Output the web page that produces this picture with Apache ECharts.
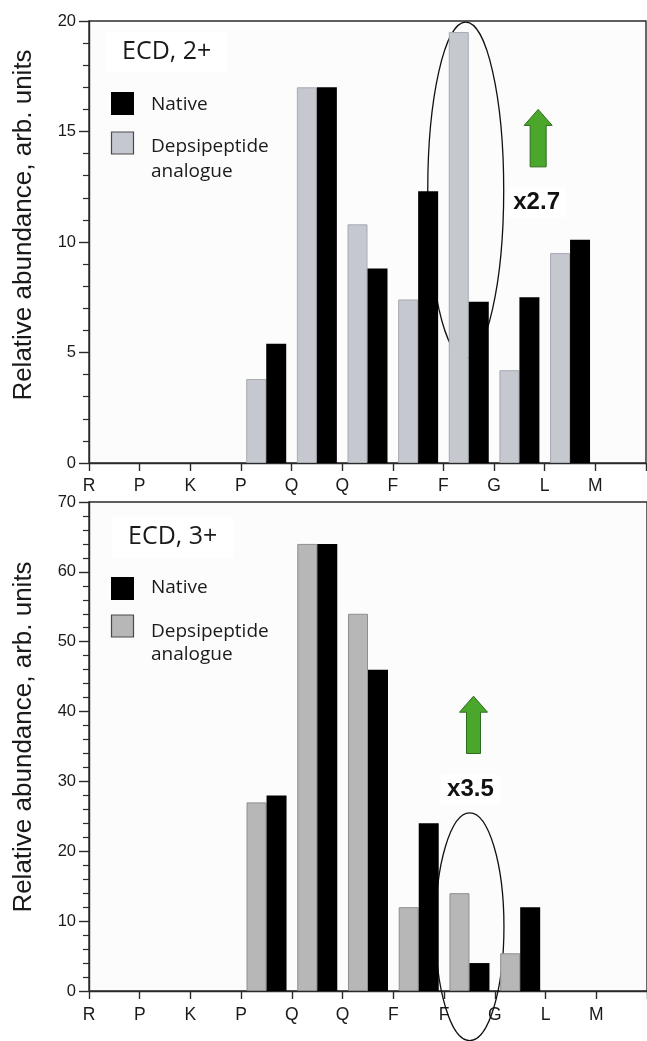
<!DOCTYPE html>
<html><head><meta charset="utf-8">
<script src="https://cdn.jsdelivr.net/npm/echarts@6/dist/echarts.min.js"></script>
<style>html,body{margin:0;padding:0;background:#fff}#c{width:647px;height:1041px}</style>
</head><body><div id="c"></div>
<script>
// Residue tick labels (ticks 0..11) and cleavage sites (intervals between ticks)
const tickLabels = ['R','P','K','P','Q','Q','F','F','G','L','M',''];
const sites = ['R|P','P|K','K|P','P|Q','Q|Q','Q|F','F|F','F|G','G|L','L|M','M|'];
// ECD, 2+
const native2 = [null,null,null,5.4,17.0,8.8,12.3,7.3,7.5,10.1,null];
const depsi2  = [null,null,null,3.8,17.0,10.8,7.4,19.5,4.2,9.5,null];
// ECD, 3+
const native3 = [null,null,null,28,64,46,24,4,12,null,null];
const depsi3  = [null,null,null,27,64,54,12,14,5.4,null,null];
// annotations (in data units)
const ring2 = {x:[6.69,8.19], y:[4.75,19.95]};
const ring3 = {x:[6.83,8.18], y:[-7.1,25.5]};
const arrow2 = {x:8.87, y:[13.4,16.0]};
const arrow3 = {x:7.58, y:[34.0,42.2]};
const factor2 = {x:8.84, y:11.8, text:'x2.7'};
const factor3 = {x:7.52, y:28.8, text:'x3.5'};
const yTitle = 'Relative abundance, arb. units';

const AX = '#2a2a2a';
const TXT = '#1a1a1a';
const SANS = '"Liberation Sans", Arial, sans-serif';
const HUM = '"Open Sans", "Noto Sans", sans-serif';
const chart = echarts.init(document.getElementById('c'));

function xAxes(gi, margin){
  return [
    {gridIndex:gi, type:'category', data:sites, show:false, boundaryGap:true},
    {gridIndex:gi, type:'value', min:0, max:11, interval:1, position:'bottom',
     axisLine:{show:true, onZero:false, lineStyle:{color:AX, width:1.4}},
     axisTick:{show:true, length:8, lineStyle:{color:AX, width:1.4}},
     axisLabel:{margin:margin, fontSize:17.5, color:TXT, fontFamily:SANS,
       showMinLabel:true, showMaxLabel:true,
       formatter:v => tickLabels[Math.round(v)] || ''},
     splitLine:{show:false}}
  ];
}
function yAxis(gi, max, interval){
  return {gridIndex:gi, type:'value', min:0, max:max, interval:interval,
    axisLine:{show:true, lineStyle:{color:AX, width:1.4}},
    axisTick:{show:true, length:10, lineStyle:{color:AX, width:1.4}},
    minorTick:{show:true, splitNumber:5, length:6, lineStyle:{color:AX, width:1.2}},
    splitLine:{show:false}, minorSplitLine:{show:false},
    axisLabel:{margin:13, fontSize:16.5, color:TXT, fontFamily:SANS}};
}
function bar(name, data, xi, yi, color, border){
  return {type:'bar', name:name, data:data, xAxisIndex:xi, yAxisIndex:yi,
    barWidth:20, barGap:'0%', silent:true, z:3,
    itemStyle:{color:color, borderColor:border, borderWidth:border?1:0}};
}
const gridStyle = {show:true, borderColor:AX, borderWidth:1.4, backgroundColor:'#fcfcfc',
  containLabel:false, outerBoundsMode:'none'};

chart.setOption({
  animation:false,
  grid:[
    Object.assign({left:89, right:1, top:21, height:442}, gridStyle),
    Object.assign({left:89, right:0, top:502, height:489}, gridStyle)
  ],
  xAxis:[...xAxes(0,14), ...xAxes(1,15)],
  yAxis:[yAxis(0,20,5), yAxis(1,70,10)],
  series:[
    bar('Depsipeptide analogue', depsi2, 0, 0, '#c6c8d0', '#a8aab2'),
    bar('Native', native2, 0, 0, '#000000', null),
    bar('Depsipeptide analogue', depsi3, 2, 1, '#b7b7b7', '#8e8e8e'),
    bar('Native', native3, 2, 1, '#000000', null)
  ]
});

function px(xi, yi, x, y){ return chart.convertToPixel({xAxisIndex:xi, yAxisIndex:yi}, [x, y]); }

function ellipse(xi, yi, r){
  const a = px(xi, yi, r.x[0], r.y[1]);
  const b = px(xi, yi, r.x[1], r.y[0]);
  return {type:'ellipse', z:1, silent:true,
    shape:{cx:(a[0]+b[0])/2, cy:(a[1]+b[1])/2, rx:(b[0]-a[0])/2, ry:(b[1]-a[1])/2},
    style:{fill:null, stroke:'#111', lineWidth:1.3}};
}
function arrow(xi, yi, a, headW, shaftW, headH){
  const tip = px(xi, yi, a.x, a.y[1]);
  const bot = px(xi, yi, a.x, a.y[0]);
  const cx = tip[0], t = tip[1], b = bot[1], hw = headW/2, sw = shaftW/2;
  return {type:'polygon', z:10, silent:true,
    shape:{points:[[cx,t],[cx+hw,t+headH],[cx+sw,t+headH],[cx+sw,b],[cx-sw,b],[cx-sw,t+headH],[cx-hw,t+headH]]},
    style:{fill:'#4aa72b', stroke:'#2e6a1c', lineWidth:1}};
}
function factor(xi, yi, f){
  const p = px(xi, yi, f.x, f.y);
  return {type:'text', z:10, silent:true, x:p[0], y:p[1],
    style:{text:f.text, font:'bold 24px ' + SANS, fill:'#111', align:'center', verticalAlign:'middle',
      backgroundColor:'#ffffff', padding:[3,6]}};
}
function txt(x, y, s, font, extra){
  return Object.assign({type:'text', z:10, silent:true, x:x, y:y,
    style:{text:s, font:font, fill:TXT, align:'left', verticalAlign:'middle'}}, extra||{});
}
function legend(g, gray){
  return [
    {type:'rect', z:10, silent:true, shape:{x:111, y:g.black, width:23, height:23}, style:{fill:'#000'}},
    {type:'rect', z:10, silent:true, shape:{x:111.5, y:g.gray, width:22, height:22}, style:{fill:gray, stroke:'#4a4a4a', lineWidth:1.2}},
    txt(151, g.t1, 'Native', '19px ' + HUM),
    txt(151, g.t2, 'Depsipeptide', '19px ' + HUM),
    txt(151, g.t3, 'analogue', '19px ' + HUM)
  ];
}
function title(x, y, s){
  return {type:'text', z:9, silent:true, x:x, y:y,
    style:{text:s, font:'25px ' + HUM, fill:TXT, align:'left', verticalAlign:'middle',
      backgroundColor:'#ffffff', padding:[8,16,8,16]}};
}
function ytitle(x, y){
  return {type:'text', z:10, silent:true, x:x, y:y, rotation:Math.PI/2,
    style:{text:yTitle, font:'26px ' + SANS, fill:TXT, align:'center', verticalAlign:'middle'}};
}

chart.setOption({graphic:{elements:[
  ellipse(1, 0, ring2),
  ellipse(3, 1, ring3),
  arrow(1, 0, arrow2, 28, 16, 16),
  arrow(3, 1, arrow3, 28, 14, 16),
  factor(1, 0, factor2),
  factor(3, 1, factor3),
  title(106, 52, 'ECD, 2+'),
  title(112, 537, 'ECD, 3+'),
  ...legend({black:92, gray:132, t1:105, t2:147, t3:172}, '#c6c8d0'),
  ...legend({black:577, gray:615, t1:588, t2:632, t3:655}, '#b7b7b7'),
  ytitle(24, 225),
  ytitle(24, 737)
]}});
</script>
</body></html>
